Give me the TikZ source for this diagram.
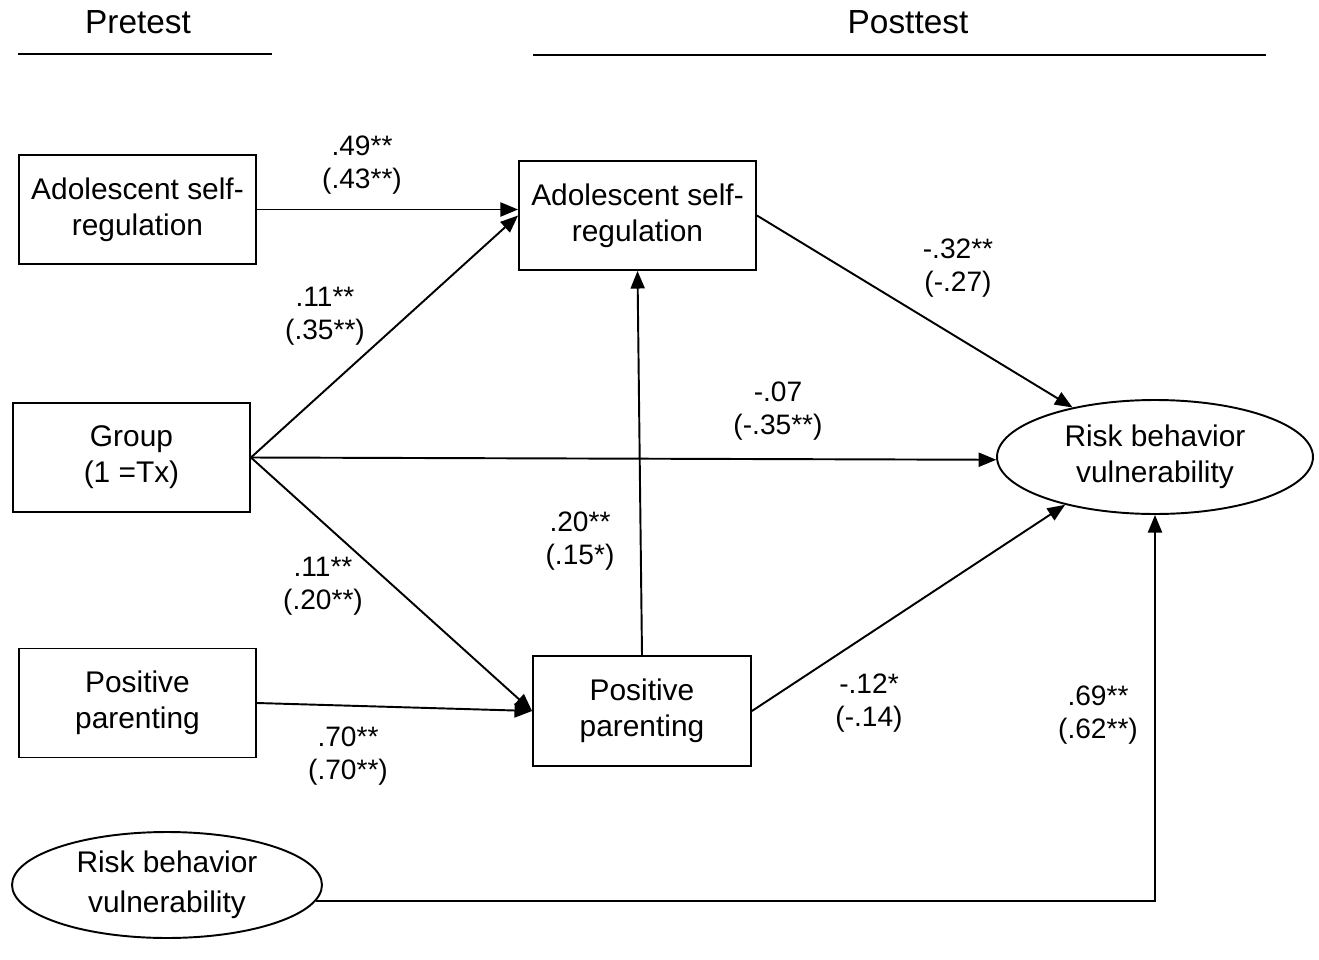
\documentclass[tikz,border=0pt]{standalone}
\usepackage{fontspec}
\setmainfont{Liberation Sans}
\usetikzlibrary{positioning,shapes.geometric,arrows.meta}

\tikzset{
  obs/.style={draw, line width=1.1pt, minimum width=4.74cm, minimum height=2.18cm,
    align=center, font=\fontsize{17}{20.5}\selectfont},
  lat/.style={ellipse, draw, line width=1.1pt, inner sep=0pt, align=center,
    font=\fontsize{17}{20.5}\selectfont},
  coef/.style={align=center, font=\fontsize{16}{19}\selectfont},
  head/.style={font=\fontsize{19}{23}\selectfont},
}

\begin{document}
\begin{tikzpicture}[x=0.02cm, y=-0.02cm]
  \useasboundingbox (0,0) rectangle (1319,960);

  \node [head] (pre) at (138,22) {Pretest};
  \node [head] (post) at (908,22) {Posttest};
  \draw [line width=1.1pt] (18,54) -- (272,54);
  \draw [line width=1.1pt] (533,55) -- (1266,55);

  \node [obs] (asr1) at (137.5,209.5) {Adolescent self-\\regulation};
  \node [obs] (grp) at (131.5,457.5) {Group\\(1 =Tx)};
  \node [obs] (pp1) at (137.5,703) {Positive\\parenting};
  \node [lat, minimum width=6.2cm, minimum height=2.12cm] (rbv1) at (167,885)
    {Risk behavior\\[2pt]vulnerability};

  \node [obs] (asr2) at (637.5,215.5) {Adolescent self-\\regulation};
  \node [obs, minimum width=4.36cm, minimum height=2.2cm] (pp2) at (642,711)
    {Positive\\parenting};
  \node [lat, minimum width=6.32cm, minimum height=2.28cm] (rbv2) at (1155,457)
    {Risk behavior\\vulnerability};

  \path[-{Triangle[length=10pt,width=8pt]}, line width=1.1pt]
    (asr1) edge (asr1 -| asr2.west)
    (grp.east)
      edge (asr2.west)
      edge (rbv2.181)
      edge (pp2.west)
    (pp1.east) edge (pp2.west)
    (asr2.east) edge (rbv2.149)
    (pp2.east) edge (rbv2.208)
    (pp2.north) edge (asr2.south)
    (rbv1.-6) edge [to path={-| (\tikztotarget)}] (rbv2.south);

  \node [coef] (c1) at (362,165) {.49**\\(.43**)};
  \node [coef] (c2) at (325,316) {.11**\\(.35**)};
  \node [coef] (c3) at (778,411) {-.07\\(-.35**)};
  \node [coef] (c4) at (958,268) {-.32**\\(-.27)};
  \node [coef] (c5) at (580,541) {.20**\\(.15*)};
  \node [coef] (c6) at (323,586) {.11**\\(.20**)};
  \node [coef] (c7) at (348,756) {.70**\\(.70**)};
  \node [coef] (c8) at (869,703) {-.12*\\(-.14)};
  \node [coef] (c9) at (1098,715) {.69**\\(.62**)};
\end{tikzpicture}
\end{document}
